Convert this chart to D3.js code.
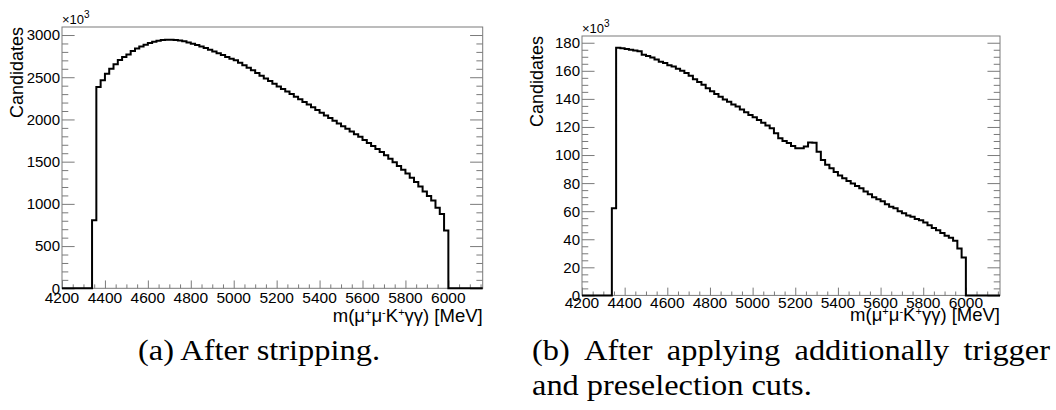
<!DOCTYPE html>
<html>
<head>
<meta charset="utf-8">
<script src="https://cdn.jsdelivr.net/npm/d3@7"></script>
<style>
  body { margin: 0; background: #fff; }
  svg { display: block; }
</style>
</head>
<body>
<script>
// Histogram binning: 20 MeV bins from 4200 to 6160 MeV
const HIST_MIN = 4200;
const HIST_MAX = 6160;
const BIN_WIDTH = 20;

// Candidates per bin (x10^3) after stripping
const strippingCounts = [
  0, 0, 0, 0, 0, 0, 0,
  805, 2385, 2465, 2540, 2600, 2655, 2705, 2740, 2770, 2810,
  2840, 2865, 2885, 2905, 2920, 2932, 2940, 2945, 2945, 2942,
  2935, 2925, 2912, 2898, 2882, 2865, 2846, 2826, 2805, 2784,
  2762, 2740, 2720, 2700, 2672, 2643, 2613, 2582, 2550, 2518,
  2486, 2454, 2422, 2390, 2360, 2330, 2300, 2270, 2240, 2208,
  2176, 2144, 2112, 2080, 2048, 2016, 1984, 1952, 1920, 1889,
  1858, 1826, 1794, 1758, 1722, 1686, 1650, 1613, 1575, 1535,
  1494, 1450, 1405, 1360, 1310, 1258, 1205, 1148, 1092, 1040,
  955, 880, 685,
  0, 0, 0, 0, 0, 0, 0, 0
];

// Candidates per bin (x10^3) after trigger and preselection cuts
const preselectionCounts = [
  0, 0, 0, 0, 0, 0, 0,
  62, 176.5, 176, 175.5, 175, 174.5, 174, 171.5, 170.5, 169.5,
  168, 166.5, 165.5, 164, 163, 161.5, 160, 158.5, 156.5, 154,
  152, 150, 147.5, 145.5, 143.5, 141.5, 139.5, 138, 136, 134.5,
  132.5, 130.5, 128.5, 127, 125, 123, 121, 119, 115.5, 112,
  110, 108.5, 106.5, 104.8, 104.8, 106, 109, 108.8, 102.3, 96.5,
  93, 90.5, 88, 85.5, 83.5, 81.5, 79.8, 78, 76.3, 74,
  72, 70, 68.5, 67, 65, 63.2, 62, 60, 58.5, 57,
  56, 54.5, 53.5, 52, 50, 48, 46.5, 44.5, 42.5, 41,
  39, 33.5, 27,
  0, 0, 0, 0, 0, 0, 0, 0
];

const massTicks = [4200, 4400, 4600, 4800, 5000, 5200, 5400, 5600, 5800, 6000];
const strippingTicks = [0, 500, 1000, 1500, 2000, 2500, 3000];
const preselectionTicks = [0, 20, 40, 60, 80, 100, 120, 140, 160, 180];

const captionA = "(a) After stripping.";
const captionB = ["(b) After applying additionally trigger", "and preselection cuts."];

const W = 1056, H = 410;
const SANS = "'Liberation Sans', Arimo, Arial, Helvetica, sans-serif";
const SERIF = "'Liberation Serif', Tinos, 'Times New Roman', Times, serif";
const FRAME = "#7a7a7a";

const svg = d3.select("body").append("svg")
  .attr("width", W).attr("height", H);

function drawPanel(p) {
  const g = svg.append("g");
  const x = d3.scaleLinear().domain([HIST_MIN, HIST_MAX]).range([p.left, p.right]);
  const y = d3.scaleLinear().domain([0, p.yMax]).range([p.bottom, p.top]);
  const plotH = p.bottom - p.top;
  const plotW = p.right - p.left;

  // frame
  g.append("rect")
    .attr("x", p.left).attr("y", p.top)
    .attr("width", plotW).attr("height", plotH)
    .attr("fill", "none").attr("stroke", FRAME).attr("stroke-width", 1);

  // x axis ticks (bottom, pointing inward)
  const xMajor = 0.03 * plotH, xMinor = xMajor / 2;
  const xMinorVals = d3.range(HIST_MIN, HIST_MAX, 50).filter(v => !massTicks.includes(v));
  const xAxisMajor = d3.axisTop(x).tickValues(massTicks).tickSize(xMajor).tickFormat("");
  const xAxisMinor = d3.axisTop(x).tickValues(xMinorVals).tickSize(xMinor).tickFormat("");
  [xAxisMajor, xAxisMinor].forEach(ax => {
    const a = g.append("g").attr("transform", `translate(0,${p.bottom})`).call(ax);
    a.select(".domain").remove();
    a.selectAll("line").attr("stroke", FRAME);
  });
  g.append("g").selectAll("text").data(massTicks).join("text")
    .attr("x", d => x(d)).attr("y", p.bottom + p.xLabelDy)
    .attr("text-anchor", "middle")
    .attr("font-family", SANS).attr("font-size", 15.5).attr("fill", "#000")
    .text(d => d);

  // y axis ticks (left and right sides, pointing inward)
  const yMajor = 0.03 * plotW, yMinor = yMajor / 2;
  const yMinorVals = d3.range(0, p.yMax, p.yMinorStep).filter(v => !p.yTicks.includes(v));
  const axes = [
    [d3.axisRight(y).tickValues(p.yTicks).tickSize(yMajor), p.left],
    [d3.axisRight(y).tickValues(yMinorVals).tickSize(yMinor), p.left],
    [d3.axisLeft(y).tickValues(p.yTicks).tickSize(yMajor), p.right],
    [d3.axisLeft(y).tickValues(yMinorVals).tickSize(yMinor), p.right]
  ];
  axes.forEach(([ax, tx]) => {
    const a = g.append("g").attr("transform", `translate(${tx},0)`).call(ax.tickFormat(""));
    a.select(".domain").remove();
    a.selectAll("line").attr("stroke", FRAME);
  });
  g.append("g").selectAll("text").data(p.yTicks).join("text")
    .attr("x", p.left - 2).attr("y", d => y(d))
    .attr("dy", "0.36em")
    .attr("text-anchor", "end")
    .attr("font-family", SANS).attr("font-size", 15).attr("fill", "#000")
    .text(d => d);

  // exponent label
  const ex = g.append("text")
    .attr("x", p.left).attr("y", p.top - 3)
    .attr("font-family", SANS).attr("font-size", 13).attr("fill", "#000");
  ex.append("tspan").text("\u00d710");
  ex.append("tspan").attr("dy", -6).attr("font-size", 10).text("3");

  // y axis title
  g.append("text")
    .attr("transform", `translate(${p.left - 39},${p.top}) rotate(-90)`)
    .attr("text-anchor", "end")
    .attr("font-family", SANS).attr("font-size", 18).attr("fill", "#000")
    .text("Candidates");

  // x axis title
  const t = g.append("text")
    .attr("x", p.right).attr("y", p.xTitleY)
    .attr("text-anchor", "end")
    .attr("font-family", SANS).attr("font-size", 18.5).attr("fill", "#000");
  const parts = [["m(\u03bc", 0], ["+", 1], ["\u03bc", 0], ["-", 1], ["K", 0], ["+", 1], ["\u03b3\u03b3) [MeV]", 0]];
  let sup = false;
  parts.forEach(([s, isSup]) => {
    const ts = t.append("tspan").text(s);
    if (isSup && !sup) { ts.attr("dy", -6).attr("font-size", 11); sup = true; }
    else if (isSup && sup) { ts.attr("font-size", 11); }
    else if (!isSup && sup) { ts.attr("dy", 6); sup = false; }
  });

  // histogram outline
  const pts = p.counts.map((c, i) => [HIST_MIN + i * BIN_WIDTH, c]);
  pts.push([HIST_MIN + p.counts.length * BIN_WIDTH, p.counts[p.counts.length - 1]]);
  const line = d3.line().x(d => x(d[0])).y(d => y(d[1])).curve(d3.curveStepAfter);
  g.append("path").attr("d", line(pts))
    .attr("fill", "none").attr("stroke", "#000").attr("stroke-width", 2)
    .attr("stroke-linejoin", "miter");
}

drawPanel({
  left: 62, right: 482.7, top: 27, bottom: 288.3,
  yMax: 3095, yTicks: strippingTicks, yMinorStep: 100,
  counts: strippingCounts, xLabelDy: 15, xTitleY: 321.5
});

drawPanel({
  left: 582, right: 1000, top: 36, bottom: 295.4,
  yMax: 184.8, yTicks: preselectionTicks, yMinorStep: 5,
  counts: preselectionCounts, xLabelDy: 12.5, xTitleY: 321
});

// captions
const CAP_SIZE = 29;

function wordWidth(str) {
  const tmp = svg.append("text").attr("font-family", SERIF).attr("font-size", CAP_SIZE).text(str);
  const w = tmp.node().getComputedTextLength();
  tmp.remove();
  return w;
}

// horizontal stretch so the first caption spans its column
const stretch = 242 / wordWidth(captionA);

function captionLine(str, x0, yBase, justifyTo) {
  if (justifyTo == null) {
    const w = wordWidth(str) * stretch;
    svg.append("text").attr("x", x0).attr("y", yBase)
      .attr("font-family", SERIF).attr("font-size", CAP_SIZE).attr("fill", "#000")
      .attr("textLength", w).attr("lengthAdjust", "spacingAndGlyphs")
      .text(str);
    return;
  }
  const words = str.split(" ");
  const widths = words.map(w => wordWidth(w) * stretch);
  const gap = (justifyTo - x0 - d3.sum(widths)) / (words.length - 1);
  let cx = x0;
  words.forEach((w, i) => {
    svg.append("text").attr("x", cx).attr("y", yBase)
      .attr("font-family", SERIF).attr("font-size", CAP_SIZE).attr("fill", "#000")
      .attr("textLength", widths[i]).attr("lengthAdjust", "spacingAndGlyphs")
      .text(w);
    cx += widths[i] + gap;
  });
}

captionLine(captionA, 138, 360);
captionLine(captionB[0], 532, 360, 1050);
captionLine(captionB[1], 532, 395);
</script>
</body>
</html>
